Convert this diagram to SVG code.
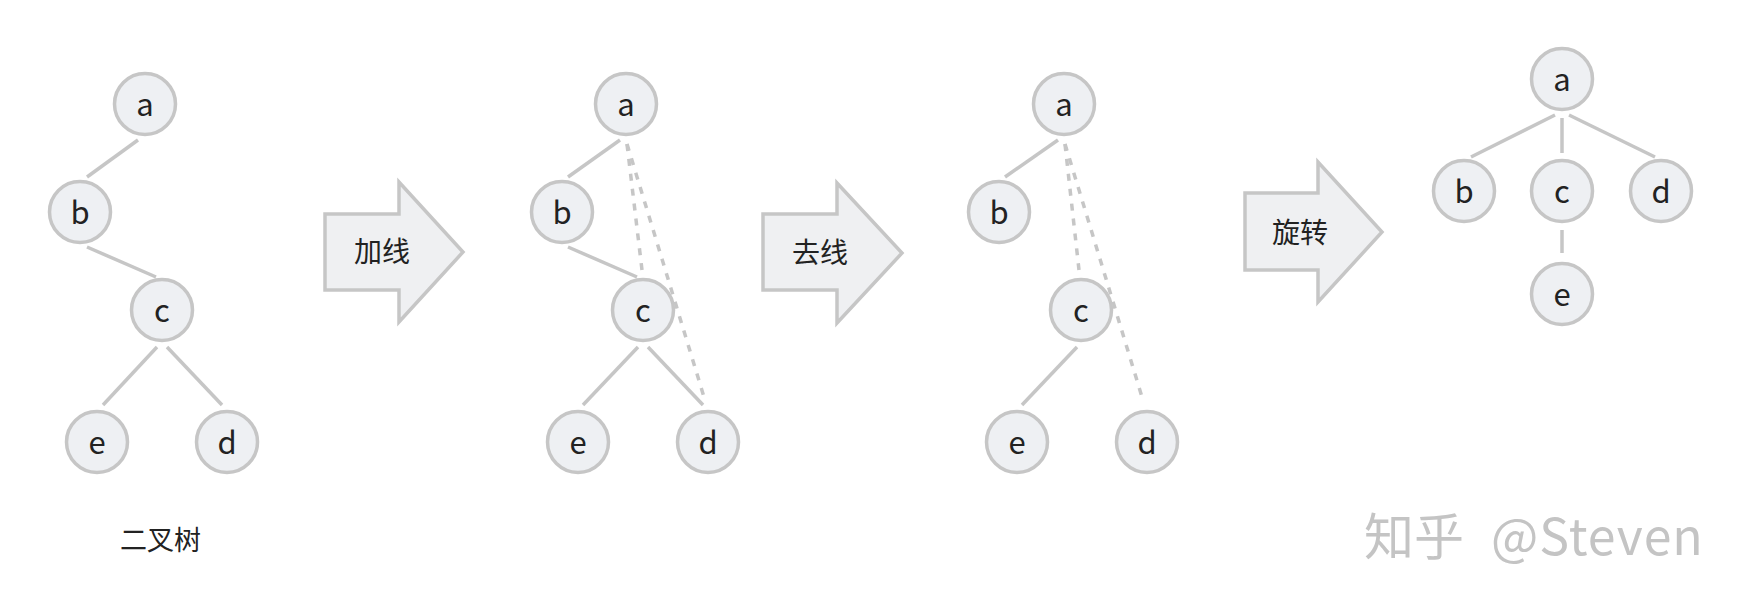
<svg xmlns="http://www.w3.org/2000/svg" width="1742" height="606" viewBox="0 0 1742 606">
<style>
.node circle{fill:#eef0f3;stroke:#c6c6c6;stroke-width:3.5}
.node text{font-family:"Noto Sans CJK SC","Noto Sans",sans-serif;font-size:31px;fill:#222;text-anchor:middle}
.edge{stroke:#c6c6c6;stroke-width:3.5;fill:none}
.dash{stroke:#c6c6c6;stroke-width:3.5;fill:none;stroke-dasharray:7 8}
.arrow polygon{fill:#eff0f2;stroke:#c6c6c6;stroke-width:3.5;stroke-linejoin:miter}
.arrow text{font-family:"Noto Sans CJK SC",sans-serif;font-size:28px;fill:#222;text-anchor:middle}
.cap{font-family:"Noto Sans CJK SC",sans-serif;font-size:27px;fill:#222}
.wm{font-family:"Noto Sans CJK SC","Noto Sans",sans-serif;font-size:50px;fill:#c4c4c4}
</style>
<rect width="1742" height="606" fill="#ffffff"/>
<g id="connectors">
<line class="edge" x1="138" y1="140" x2="87" y2="177"/>
<line class="edge" x1="87" y1="247" x2="156" y2="277"/>
<line class="edge" x1="157" y1="347" x2="103" y2="405"/>
<line class="edge" x1="167" y1="347" x2="222" y2="405"/>
<line class="edge" x1="620" y1="140" x2="568" y2="177"/>
<line class="edge" x1="568" y1="247" x2="637" y2="277"/>
<line class="edge" x1="638" y1="347" x2="583" y2="405"/>
<line class="edge" x1="648" y1="347" x2="703" y2="405"/>
<line class="dash" x1="627" y1="144" x2="642" y2="270"/>
<line class="dash" x1="627" y1="144" x2="704" y2="397"/>
<line class="edge" x1="1058" y1="140" x2="1005" y2="177"/>
<line class="edge" x1="1077" y1="347" x2="1022" y2="405"/>
<line class="dash" x1="1065" y1="144" x2="1079" y2="270"/>
<line class="dash" x1="1065" y1="144" x2="1142" y2="397"/>
<line class="edge" x1="1555" y1="115" x2="1471" y2="157"/>
<line class="edge" x1="1562" y1="118" x2="1562" y2="153"/>
<line class="edge" x1="1569" y1="115" x2="1655" y2="157"/>
<line class="edge" x1="1562" y1="230" x2="1562" y2="253"/>
</g>
<g id="t1-a" class="node"><circle cx="145" cy="104" r="30.5"/><text x="145" y="116">a</text></g>
<g id="t1-b" class="node"><circle cx="80" cy="212" r="30.5"/><text x="80" y="224">b</text></g>
<g id="t1-c" class="node"><circle cx="162" cy="310" r="30.5"/><text x="162" y="322">c</text></g>
<g id="t1-e" class="node"><circle cx="97" cy="442" r="30.5"/><text x="97" y="454">e</text></g>
<g id="t1-d" class="node"><circle cx="227" cy="442" r="30.5"/><text x="227" y="454">d</text></g>
<g id="t2-a" class="node"><circle cx="626" cy="104" r="30.5"/><text x="626" y="116">a</text></g>
<g id="t2-b" class="node"><circle cx="562" cy="212" r="30.5"/><text x="562" y="224">b</text></g>
<g id="t2-c" class="node"><circle cx="643" cy="310" r="30.5"/><text x="643" y="322">c</text></g>
<g id="t2-e" class="node"><circle cx="578" cy="442" r="30.5"/><text x="578" y="454">e</text></g>
<g id="t2-d" class="node"><circle cx="708" cy="442" r="30.5"/><text x="708" y="454">d</text></g>
<g id="t3-a" class="node"><circle cx="1064" cy="104" r="30.5"/><text x="1064" y="116">a</text></g>
<g id="t3-b" class="node"><circle cx="999" cy="212" r="30.5"/><text x="999" y="224">b</text></g>
<g id="t3-c" class="node"><circle cx="1081" cy="310" r="30.5"/><text x="1081" y="322">c</text></g>
<g id="t3-e" class="node"><circle cx="1017" cy="442" r="30.5"/><text x="1017" y="454">e</text></g>
<g id="t3-d" class="node"><circle cx="1147" cy="442" r="30.5"/><text x="1147" y="454">d</text></g>
<g id="t4-a" class="node"><circle cx="1562" cy="79" r="30.5"/><text x="1562" y="91">a</text></g>
<g id="t4-b" class="node"><circle cx="1464" cy="191" r="30.5"/><text x="1464" y="203">b</text></g>
<g id="t4-c" class="node"><circle cx="1562" cy="191" r="30.5"/><text x="1562" y="203">c</text></g>
<g id="t4-d" class="node"><circle cx="1661" cy="191" r="30.5"/><text x="1661" y="203">d</text></g>
<g id="t4-e" class="node"><circle cx="1562" cy="294" r="30.5"/><text x="1562" y="306">e</text></g>
<g id="arrow1" class="arrow"><polygon points="325,214 399,214 399,182 463,252 399,322 399,290 325,290"/><text x="382" y="262">加线</text></g>
<g id="arrow2" class="arrow"><polygon points="763,214 837,214 837,183 902,253 837,323 837,290 763,290"/><text x="820" y="263">去线</text></g>
<g id="arrow3" class="arrow"><polygon points="1245,193 1318,193 1318,162 1382,232 1318,302 1318,270 1245,270"/><text x="1300" y="243">旋转</text></g>
<g id="caption"><text class="cap" x="120" y="550">二叉树</text></g>
<g id="watermark"><text class="wm" x="1364" y="555">知乎 <tspan x="1491" letter-spacing="1">@Steven</tspan></text></g>
</svg>
